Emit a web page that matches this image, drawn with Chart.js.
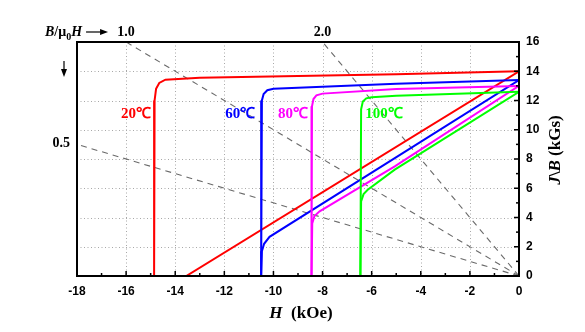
<!DOCTYPE html>
<html>
<head>
<meta charset="utf-8">
<script src="https://cdn.jsdelivr.net/npm/chart.js@4.4.0/dist/chart.umd.min.js"></script>
<style>
    body { margin: 0; background: #fff; }
    #wrap { width: 585px; height: 332px; }
</style>
</head>
<body>
<div id="wrap"><canvas id="myChart" width="585" height="332"></canvas></div>
<script>
// Curvas de desmagnetização: H em kOe, J e B em kGs
const tempLabels = ['20℃', '60℃', '80℃', '100℃'];

// Curvas J (polarização)
const h20J = [0, -5, -13, -14.4, -14.65, -14.78, -14.84, -14.86];
const j20  = [14.0, 13.8, 13.55, 13.42, 13.2, 12.8, 12.0, 0];
const h60J = [0, -5, -10, -10.25, -10.4, -10.47, -10.5];
const j60  = [13.4, 13.15, 12.8, 12.7, 12.45, 12.0, 0];
const h80J = [0, -5, -8.0, -8.25, -8.37, -8.43, -8.45];
const j80  = [13.0, 12.78, 12.47, 12.35, 12.1, 11.6, 0];
const h100J = [0, -5, -6.0, -6.22, -6.36, -6.43, -6.46];
const j100  = [12.6, 12.32, 12.22, 12.15, 11.93, 11.4, 0];

// Curvas B (indução)
const h20B = [0, -13.55];
const b20  = [14.0, 0];
const h60B = [0, -10.16, -10.38, -10.47, -10.5];
const b60  = [13.4, 2.68, 2.2, 1.7, 0];
const h80B = [0, -5.06, -8.12, -8.33, -8.42, -8.45];
const b80  = [13.0, 7.5, 4.42, 4.1, 3.6, 0];
const h100B = [0, -5.06, -6.16, -6.33, -6.43, -6.46];
const b100  = [12.6, 7.27, 5.9, 5.6, 5.1, 0];

// Retas de carga B/μ0H
const loadLabels = ['0.5', '1.0', '2.0'];
const loadH = [[0, -18], [0, -16], [0, -8]];
const loadB = [[0, 9], [0, 16], [0, 16]];

const lineColors = ['#ff0000', '#0000ff', '#ff00ff', '#00ff00'];
const SERIF = '"Liberation Serif", "Times New Roman", serif';
const SANS = '"Liberation Sans", Arial, sans-serif';

function toPoints(hs, vs) {
    return hs.map((h, i) => ({ x: h, y: vs[i] }));
}

const jCurves = [[h20J, j20], [h60J, j60], [h80J, j80], [h100J, j100]];
const bCurves = [[h20B, b20], [h60B, b60], [h80B, b80], [h100B, b100]];

const datasets = [];
jCurves.forEach((c, i) => {
    datasets.push({ data: toPoints(c[0], c[1]), borderColor: lineColors[i], borderWidth: 2,
        pointRadius: 0, showLine: true, fill: false, order: 1 });
});
bCurves.forEach((c, i) => {
    datasets.push({ data: toPoints(c[0], c[1]), borderColor: lineColors[i], borderWidth: 2,
        pointRadius: 0, showLine: true, fill: false, order: 1 });
});
loadH.forEach((hs, i) => {
    datasets.push({ data: toPoints(hs, loadB[i]), borderColor: '#6a6a6a', borderWidth: 1.1,
        borderDash: [6, 5], pointRadius: 0, showLine: true, fill: false, order: 10 });
});

// Posição dos rótulos de temperatura (em unidades dos eixos)
const tempLabelPos = [
    { h: -15.6, v: 11.1 },
    { h: -11.35, v: 11.1 },
    { h: -9.2, v: 11.1 },
    { h: -5.5, v: 11.1 }
];

function richWidth(ctx, parts) {
    let w = 0;
    parts.forEach(p => { ctx.font = p.font; w += ctx.measureText(p.t).width; });
    return w;
}

function drawRich(ctx, parts, x, y) {
    parts.forEach(p => {
        ctx.font = p.font;
        ctx.fillText(p.t, x, y + (p.dy || 0));
        x += ctx.measureText(p.t).width;
    });
    return x;
}

function arrow(ctx, x1, y1, x2, y2) {
    const a = Math.atan2(y2 - y1, x2 - x1);
    ctx.beginPath();
    ctx.moveTo(x1, y1);
    ctx.lineTo(x2 - 6 * Math.cos(a), y2 - 6 * Math.sin(a));
    ctx.stroke();
    ctx.beginPath();
    ctx.moveTo(x2, y2);
    ctx.lineTo(x2 - 8 * Math.cos(a) + 3 * Math.sin(a), y2 - 8 * Math.sin(a) - 3 * Math.cos(a));
    ctx.lineTo(x2 - 8 * Math.cos(a) - 3 * Math.sin(a), y2 - 8 * Math.sin(a) + 3 * Math.cos(a));
    ctx.closePath();
    ctx.fill();
}

const decorations = {
    id: 'decorations',
    beforeDatasetsDraw(chart) {
        // grade pontilhada
        const { ctx, chartArea: a, scales: { x, y } } = chart;
        ctx.save();
        ctx.strokeStyle = '#a8a8a8';
        ctx.lineWidth = 1;
        ctx.setLineDash([1, 2.5]);
        for (let v = -16; v <= -2; v += 2) {
            const px = Math.round(x.getPixelForValue(v)) + 0.5;
            ctx.beginPath(); ctx.moveTo(px, a.top); ctx.lineTo(px, a.bottom); ctx.stroke();
        }
        for (let v = 2; v <= 14; v += 2) {
            const py = Math.round(y.getPixelForValue(v)) + 0.5;
            ctx.beginPath(); ctx.moveTo(a.left, py); ctx.lineTo(a.right, py); ctx.stroke();
        }
        ctx.restore();
    },
    afterDatasetsDraw(chart) {
        const { ctx, chartArea: a, scales: { x, y } } = chart;
        ctx.save();

        // moldura e marcas dos eixos
        ctx.strokeStyle = '#000';
        ctx.lineWidth = 2;
        ctx.strokeRect(a.left, a.top, a.right - a.left, a.bottom - a.top);
        ctx.lineWidth = 1.5;
        for (let v = -17; v <= -1; v++) {
            const px = x.getPixelForValue(v);
            const len = v % 2 === 0 ? 5 : 3;
            ctx.beginPath(); ctx.moveTo(px, a.bottom); ctx.lineTo(px, a.bottom - len); ctx.stroke();
        }
        for (let v = 1; v <= 15; v++) {
            const py = y.getPixelForValue(v);
            const len = v % 2 === 0 ? 5 : 3;
            ctx.beginPath(); ctx.moveTo(a.right, py); ctx.lineTo(a.right - len, py); ctx.stroke();
        }

        // rótulos de temperatura
        ctx.textBaseline = 'middle';
        ctx.textAlign = 'center';
        ctx.font = 'bold 15px ' + SERIF;
        tempLabels.forEach((t, i) => {
            ctx.fillStyle = lineColors[i];
            ctx.fillText(t, x.getPixelForValue(tempLabelPos[i].h), y.getPixelForValue(tempLabelPos[i].v));
        });

        // legenda das retas de carga
        ctx.fillStyle = '#000';
        ctx.textBaseline = 'alphabetic';
        ctx.font = 'bold 14px ' + SERIF;
        ctx.fillText(loadLabels[1], x.getPixelForValue(loadH[1][1]), a.top - 6);
        ctx.fillText(loadLabels[2], x.getPixelForValue(loadH[2][1]), a.top - 6);
        ctx.textAlign = 'right';
        ctx.fillText(loadLabels[0], a.left - 7, y.getPixelForValue(loadB[0][1]) + 3);

        ctx.textAlign = 'left';
        const it = 'italic bold 14px ' + SERIF;
        const bd = 'bold 14px ' + SERIF;
        const endX = drawRich(ctx, [
            { t: 'B', font: it }, { t: '/', font: bd }, { t: 'μ', font: bd },
            { t: '0', font: 'bold 10px ' + SERIF, dy: 4 }, { t: 'H', font: it }
        ], 45, a.top - 6);
        ctx.lineWidth = 1.2;
        arrow(ctx, endX + 4, a.top - 10, endX + 26, a.top - 10);
        arrow(ctx, 64, 61, 64, 77);

        // título do eixo x
        const xt = [
            { t: 'H', font: 'italic bold 17px ' + SERIF },
            { t: '  (kOe)', font: 'bold 17px ' + SERIF }
        ];
        drawRich(ctx, xt, 301 - richWidth(ctx, xt) / 2, 318);

        // título do eixo y (girado)
        const yt = [
            { t: 'J', font: 'italic bold 17px ' + SERIF },
            { t: '\\', font: 'bold 17px ' + SERIF },
            { t: 'B', font: 'italic bold 17px ' + SERIF },
            { t: ' (kGs)', font: 'bold 17px ' + SERIF }
        ];
        ctx.translate(560, 150);
        ctx.rotate(-Math.PI / 2);
        drawRich(ctx, yt, -richWidth(ctx, yt) / 2, 0);

        ctx.restore();
    }
};

const ctx = document.getElementById('myChart').getContext('2d');
const myChart = new Chart(ctx, {
    type: 'scatter',
    data: { datasets: datasets },
    options: {
        responsive: false,
        animation: false,
        layout: { padding: { left: 77, top: 42, right: 0, bottom: 0 } },
        plugins: { legend: { display: false }, tooltip: { enabled: false } },
        scales: {
            x: {
                type: 'linear', position: 'bottom', min: -18, max: 0,
                ticks: { stepSize: 2, color: '#000', padding: 8, maxRotation: 0, autoSkip: false,
                    font: { family: SANS, size: 12, weight: 'bold' } },
                grid: { display: false, drawTicks: false },
                border: { display: false },
                afterFit: s => { s.height = 56; }
            },
            y: {
                type: 'linear', position: 'right', min: 0, max: 16,
                ticks: { stepSize: 2, color: '#000', padding: 7,
                    font: { family: SANS, size: 12, weight: 'bold' } },
                grid: { display: false, drawTicks: false },
                border: { display: false },
                afterFit: s => { s.width = 66; }
            }
        }
    },
    plugins: [decorations]
});
</script>
</body>
</html>
